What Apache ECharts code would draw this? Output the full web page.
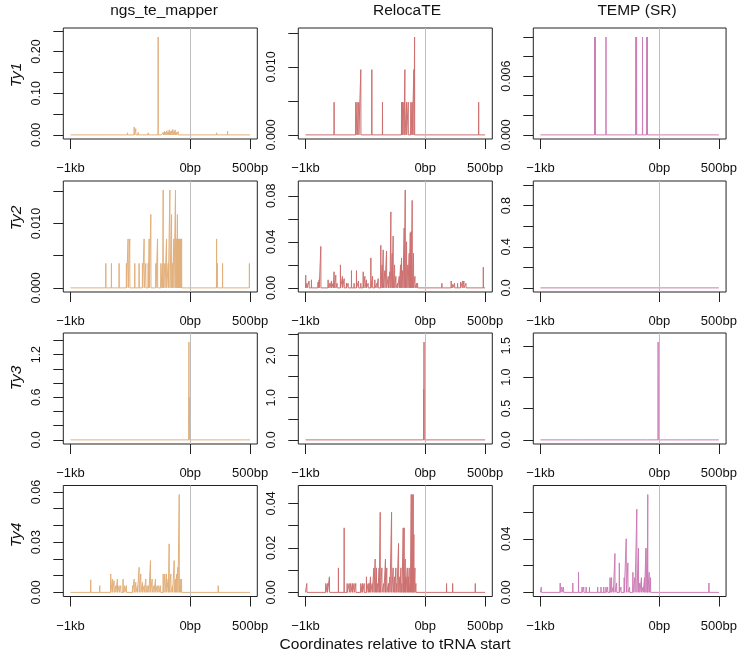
<!DOCTYPE html>
<html><head><meta charset="utf-8">
<script src="https://cdn.jsdelivr.net/npm/echarts@6/dist/echarts.min.js"></script>
<style>html,body{margin:0;padding:0;background:#fff}#c{width:740px;height:654px}</style>
</head><body><div id="c"></div>
<script>
// ---------- DATA ----------
const methods = ['ngs_te_mapper', 'RelocaTE', 'TEMP (SR)'];
const families = ['Ty1', 'Ty2', 'Ty3', 'Ty4'];
const xTickValues = [-1000, 0, 500];
const xTickLabels = ['\u22121kb', '0bp', '500bp'];
const xAxisTitle = 'Coordinates relative to tRNA start';

// [position (bp), value]
const ty1_ngs = [[-658,0.004],[-622,0.004],[-547,0.004],[-524,0.005],[-468,0.019],[-455,0.015],[-435,0.006],[-407,0.004],[-351,0.005],[-323,0.004],[-310,0.004],[-268,0.235],[-240,0.004],[-226,0.006],[-215,0.008],[-205,0.006],[-195,0.010],[-185,0.007],[-175,0.012],[-165,0.008],[-155,0.010],[-145,0.013],[-135,0.009],[-125,0.012],[-115,0.006],[-100,0.008],[-85,0.004],[220,0.005],[312,0.009],[382,0.004]];
const ty1_reloc = [[-761,0.0048],[-580,0.0048],[-569,0.0048],[-555,0.0048],[-538,0.0096],[-446,0.0096],[-357,0.0048],[-198,0.0048],[-190,0.0048],[-178,0.0048],[-170,0.0096],[-156,0.0048],[-142,0.0048],[-120,0.0048],[-109,0.0048],[-95,0.0096],[-89,0.0144],[446,0.0048]];
const ty1_temp = [[-544,0.010],[-539,0.010],[-449,0.010],[-198,0.010],[-192,0.010],[-142,0.010],[-106,0.010],[-101,0.010]];

const ty2_ngs = [[-705,0.0038],[-658,0.0038],[-594,0.0038],[-533,0.0038],[-519,0.0076],[-505,0.0076],[-463,0.0038],[-427,0.0038],[-399,0.0038],[-385,0.0076],[-371,0.0038],[-351,0.0038],[-343,0.0076],[-329,0.0114],[-287,0.0038],[-273,0.0076],[-245,0.0038],[-231,0.0038],[-226,0.0152],[-212,0.0038],[-198,0.0076],[-184,0.0038],[-170,0.0152],[-156,0.0114],[-148,0.0038],[-137,0.0076],[-123,0.0152],[-115,0.0076],[-107,0.0114],[-100,0.0076],[-96,0.0076],[-92,0.0076],[-88,0.0076],[-84,0.0076],[-80,0.0076],[-76,0.0076],[-72,0.0076],[220,0.0076],[226,0.0038],[270,0.0038],[494,0.0038]];
const ty2_reloc = [[-998,0.011],[-987,0.004],[-970,0.006],[-950,0.007],[-895,0.005],[-886,0.007],[-872,0.036],[-811,0.007],[-797,0.004],[-783,0.006],[-769,0.004],[-761,0.014],[-747,0.011],[-736,0.004],[-708,0.020],[-691,0.010],[-677,0.008],[-658,0.004],[-644,0.004],[-616,0.015],[-594,0.004],[-574,0.015],[-557,0.006],[-538,0.004],[-518,0.014],[-504,0.010],[-491,0.007],[-477,0.004],[-454,0.026],[-440,0.010],[-421,0.007],[-404,0.004],[-393,0.008],[-371,0.037],[-360,0.020],[-351,0.033],[-337,0.015],[-323,0.032],[-309,0.010],[-295,0.014],[-287,0.066],[-276,0.030],[-268,0.045],[-256,0.020],[-245,0.010],[-231,0.004],[-217,0.010],[-206,0.020],[-198,0.026],[-187,0.015],[-176,0.052],[-167,0.085],[-156,0.040],[-145,0.020],[-134,0.030],[-125,0.048],[-117,0.049],[-109,0.076],[-98,0.030],[-86,0.010],[-72,0.004],[-64,0.004],[139,0.004],[217,0.006],[229,0.003],[245,0.004],[270,0.004],[295,0.005],[312,0.006],[323,0.006],[340,0.004],[485,0.018]];
const ty2_temp = [];

const ty3_ngs = [[-640,0.006],[-11,1.378],[-8,0.6],[220,0.01]];
const ty3_reloc = [[-663,0.02],[-13,1.2],[-10,2.32],[217,0.012]];
const ty3_temp = [[-667,0.015],[-100,0.01],[-11,1.56],[220,0.01]];

const ty4_ngs = [[-831,0.0075],[-756,0.004],[-664,0.011],[-650,0.008],[-636,0.007],[-622,0.004],[-608,0.008],[-594,0.004],[-580,0.004],[-561,0.008],[-547,0.004],[-533,0.004],[-482,0.004],[-468,0.008],[-455,0.006],[-441,0.004],[-427,0.015],[-413,0.011],[-399,0.006],[-385,0.004],[-371,0.008],[-360,0.004],[-346,0.004],[-332,0.019],[-318,0.008],[-304,0.004],[-290,0.008],[-276,0.004],[-262,0.004],[-248,0.004],[-226,0.011],[-212,0.011],[-198,0.011],[-184,0.008],[-176,0.029],[-162,0.011],[-148,0.004],[-134,0.019],[-123,0.008],[-114,0.011],[-103,0.015],[-92,0.0585],[-84,0.008],[-73,0.008],[234,0.004]];
const ty4_reloc = [[-989,0.004],[-831,0.004],[-817,0.004],[-800,0.007],[-725,0.011],[-677,0.029],[-652,0.004],[-635,0.004],[-622,0.004],[-608,0.004],[-594,0.004],[-580,0.004],[-538,0.004],[-524,0.004],[-510,0.004],[-491,0.007],[-477,0.004],[-468,0.004],[-457,0.007],[-443,0.004],[-429,0.011],[-418,0.015],[-407,0.011],[-396,0.004],[-385,0.011],[-376,0.036],[-362,0.011],[-346,0.004],[-332,0.015],[-321,0.011],[-307,0.004],[-295,0.007],[-281,0.036],[-268,0.011],[-256,0.007],[-245,0.011],[-237,0.004],[-223,0.022],[-212,0.007],[-203,0.011],[-195,0.004],[-184,0.029],[-176,0.029],[-167,0.015],[-162,0.007],[-150,0.011],[-142,0.007],[-134,0.011],[-125,0.004],[-117,0.044],[-109,0.044],[-100,0.044],[-95,0.026],[-86,0.011],[-78,0.004],[178,0.004],[229,0.004],[418,0.004]];
const ty4_temp = [[-993,0.004],[-834,0.007],[-820,0.004],[-806,0.004],[-728,0.007],[-680,0.015],[-650,0.004],[-636,0.004],[-616,0.004],[-588,0.004],[-519,0.004],[-491,0.004],[-468,0.004],[-449,0.004],[-435,0.004],[-415,0.011],[-402,0.011],[-388,0.004],[-374,0.029],[-360,0.007],[-337,0.022],[-323,0.004],[-296,0.011],[-279,0.040],[-265,0.022],[-251,0.004],[-223,0.015],[-206,0.011],[-190,0.062],[-176,0.033],[-165,0.007],[-151,0.011],[-137,0.004],[-125,0.011],[-114,0.033],[-103,0.033],[-98,0.073],[-86,0.015],[-75,0.011],[416,0.007]];

// y tick values / labelled ticks per panel (row-major)
const yTicks = [
  [0,0.05,0.10,0.15,0.20,0.25], [0,0.005,0.010,0.015], [0,0.002,0.004,0.006,0.008,0.010],
  [0,0.005,0.010,0.015], [0,0.02,0.04,0.06,0.08], [0,0.2,0.4,0.6,0.8,1.0],
  [0,0.2,0.4,0.6,0.8,1.0,1.2,1.4], [0,0.5,1.0,1.5,2.0,2.5], [0,0.5,1.0,1.5],
  [0,0.01,0.02,0.03,0.04,0.05,0.06], [0,0.01,0.02,0.03,0.04], [0,0.02,0.04,0.06]
];
const yLabelValues = [
  [0,0.10,0.20], [0,0.010], [0,0.006],
  [0,0.010], [0,0.04,0.08], [0,0.4,0.8],
  [0,0.6,1.2], [0,1.0,2.0], [0,0.5,1.0,1.5],
  [0,0.03,0.06], [0,0.02,0.04], [0,0.04]
];
const yDecimals = [2,3,3, 3,2,1, 1,1,1, 2,2,2];
const panelData = [ty1_ngs, ty1_reloc, ty1_temp, ty2_ngs, ty2_reloc, ty2_temp, ty3_ngs, ty3_reloc, ty3_temp, ty4_ngs, ty4_reloc, ty4_temp];

// ---------- LAYOUT / STYLE ----------
const colors = ['#E2B07C', '#CD7070', '#CE7CB6'];
const colLeft = [63.3, 298.3, 533.3];
const rowTop = [28, 181, 333, 485.5];
const boxW = 194, boxH = 111;
const FONT = '"Liberation Sans", Arial, Helvetica, sans-serif';
const titleX = [164, 407, 637];
const titleY = 11;
const rowLabelY = [75, 218, 378, 535];

function buildLine(spikes) {
  const s = spikes.slice().sort((a, b) => a[0] - b[0]);
  const pts = [[-1000, 0]];
  for (const [p, v] of s) { pts.push([p - 1, 0], [p, v], [p + 1, 0]); }
  pts.push([500, 0]);
  return pts;
}

const grids = [], xAxes = [], yAxes = [], series = [];
panelData.forEach((d, i) => {
  const r = Math.floor(i / 3), c = i % 3;
  const mx = d.length ? Math.max(...d.map(e => e[1])) : 0;
  const b = mx > 0 ? 1.05 * mx : 1;
  grids.push({ left: colLeft[c], top: rowTop[r], width: boxW, height: boxH, show: true, borderColor: '#222', borderWidth: 1, backgroundColor: 'transparent' });
  xAxes.push({
    type: 'value', gridIndex: i, min: -1060, max: 560,
    axisLine: { show: false, onZero: false },
    axisTick: { show: true, customValues: xTickValues, length: 10, lineStyle: { color: '#222', width: 1 } },
    axisLabel: { show: true, customValues: xTickValues, margin: 23, fontSize: 13, fontFamily: FONT, color: '#111',
      formatter: v => xTickLabels[xTickValues.indexOf(v)] },
    splitLine: { show: false }
  });
  const dec = yDecimals[i];
  yAxes.push({
    type: 'value', gridIndex: i, min: -0.04 * b, max: 1.04 * b,
    axisLine: { show: false, onZero: false },
    axisTick: { show: true, customValues: yTicks[i], length: 10, lineStyle: { color: '#222', width: 1 } },
    axisLabel: { show: true, customValues: yLabelValues[i], rotate: 90, margin: 20, fontSize: 12.5, fontFamily: FONT, color: '#111',
      formatter: v => Number(v).toFixed(dec) },
    splitLine: { show: false }
  });
  series.push({
    type: 'line', xAxisIndex: i, yAxisIndex: i, data: buildLine(d),
    showSymbol: false, symbol: 'none', animation: false, silent: true,
    lineStyle: { color: colors[c], width: 1 },
    markLine: { silent: true, symbol: ['none', 'none'], label: { show: false }, animation: false,
      lineStyle: { color: '#BEBEBE', width: 1, type: 'solid' }, data: [{ xAxis: 0 }] }
  });
});

const graphics = [];
methods.forEach((m, c) => graphics.push({ type: 'text', x: titleX[c], y: titleY,
  style: { text: m, fontSize: 15.5, fontFamily: FONT, fill: '#111', textAlign: 'center', textVerticalAlign: 'middle' } }));
families.forEach((f, r) => graphics.push({ type: 'text', x: 16.5, y: rowLabelY[r], rotation: Math.PI / 2,
  style: { text: f, fontSize: 15.5, fontStyle: 'italic', fontFamily: FONT, fill: '#111', textAlign: 'center', textVerticalAlign: 'middle' } }));
graphics.push({ type: 'text', x: 395, y: 645,
  style: { text: xAxisTitle, fontSize: 15.5, fontFamily: FONT, fill: '#111', textAlign: 'center', textVerticalAlign: 'middle' } });

const chart = echarts.init(document.getElementById('c'), null, { renderer: 'canvas' });
chart.setOption({ animation: false, backgroundColor: '#fff', grid: grids, xAxis: xAxes, yAxis: yAxes, series: series, graphic: graphics });
</script></body></html>
